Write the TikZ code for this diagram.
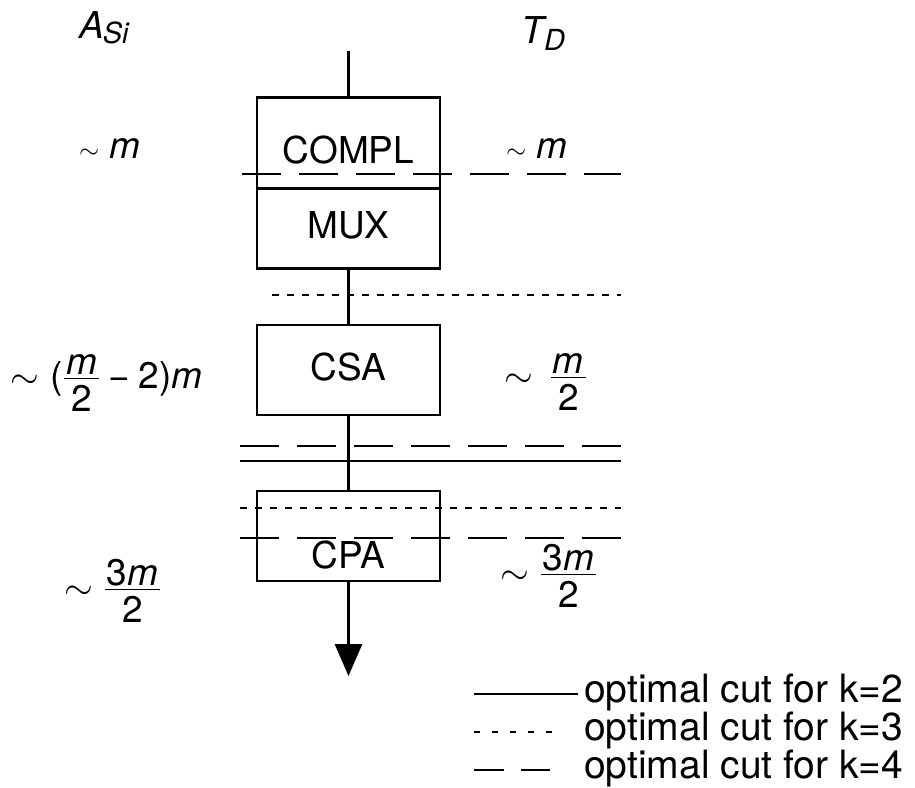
\RequirePackage{fix-cm}
\documentclass[tikz,border=0pt]{standalone}
\usepackage{fontspec}
\setmainfont{TeX Gyre Heros}
\usetikzlibrary{arrows.meta}
\newdimen\frwd
\newbox\frnum
\newbox\frden
\newcommand\myfr[2]{%
  \setbox\frnum\hbox{#1}\setbox\frden\hbox{#2}%
  \frwd=\wd\frnum \ifdim\wd\frden>\frwd \frwd=\wd\frden\fi
  \advance\frwd by 4pt
  \raisebox{9pt}{\vbox{\hbox to\frwd{\hfil\box\frnum\hfil}\kern3pt\hrule height 1.3pt}}%
  \kern-\frwd
  \raisebox{9pt}{\vtop{\kern6pt\hbox to\frwd{\hfil\box\frden\hfil}}}}
\newcommand\mn{\symbol{"2212}}
\tikzset{
  blk/.style={draw, line width=2.4pt, minimum width=183pt, inner sep=0pt},
  wire/.style={line width=3pt},
  cuttwo/.style={line width=2.4pt},
  cutthree/.style={line width=2.4pt, dash pattern=on 7pt off 8pt},
  cutfour/.style={line width=2.4pt, dash pattern=on 39pt off 18pt},
  txt/.style={inner sep=0pt},
  legtxt/.style={inner sep=0pt, anchor=base west, font=\fontsize{39}{46}\selectfont},
}
\begin{document}
\begin{tikzpicture}[x=1pt,y=-1pt,font=\fontsize{37}{44}\selectfont]
\useasboundingbox (0,0) rectangle (915,787);
% headers
\node[txt, anchor=base west] (hA) at (79,38) {\textit{A}\kern-1pt\raisebox{-5pt}{\fontsize{29}{34}\selectfont\textit{Si}}};
\node[txt, anchor=base west] (hT) at (521,43) {\textit{T}\kern-3pt\raisebox{-7pt}{\fontsize{29}{34}\selectfont\textit{D}}};
% boxes
\node[blk, minimum height=91pt] (compl) at (348.5,143) {};
\node[blk, minimum height=80pt] (mux) at (348.5,228.5) {};
\node[blk, minimum height=90pt] (csa) at (348.5,370) {};
\node[blk, minimum height=90pt] (cpa) at (348.5,536) {};
\node[txt] (tcompl) at (348.5,150) {COMPL};
\node[txt] (tmux) at (348.5,225) {MUX};
\node[txt] (tcsa) at (348.5,367) {CSA};
\node[txt] (tcpa) at (348.5,555) {CPA};
% wires
\coordinate (in) at (348.5,51);
\coordinate (out) at (348.5,676);
\draw[wire] (in) -- (compl.north);
\draw[wire] (mux.south) -- (csa.north);
\draw[wire] (csa.south) -- (cpa.north);
\draw[wire, -{Triangle[length=32pt,width=27pt]}] (cpa.south) -- (out);
% cuts
\coordinate (c1a) at (242,174); \coordinate (c1b) at (621,174);
\coordinate (c2a) at (272,295); \coordinate (c2b) at (621,295);
\coordinate (c3a) at (240,446); \coordinate (c3b) at (621,446);
\coordinate (c4a) at (240,461); \coordinate (c4b) at (621,461);
\coordinate (c5a) at (240,508); \coordinate (c5b) at (621,508);
\coordinate (c6a) at (240,538); \coordinate (c6b) at (621,538);
\draw[cutfour] (c1a) -- (c1b);
\draw[cutthree] (c2a) -- (c2b);
\draw[cutfour] (c3a) -- (c3b);
\draw[cuttwo] (c4a) -- (c4b);
\draw[cutthree] (c5a) -- (c5b);
\draw[cutfour] (c6a) -- (c6b);
% labels
\node[txt, anchor=base west] (l1) at (79,158) {${\scriptstyle\sim}$\hspace{10pt}\textit{m}};
\node[txt, anchor=base west] (r1) at (506,158) {${\scriptstyle\sim}$\hspace{10pt}\textit{m}};
\node[txt, anchor=base west] (l2) at (10,388) {$\sim$\hspace{12pt}(\kern1pt\myfr{\textit{m}}{2}\hspace{9pt}\mn\hspace{9pt}2)\textit{m}};
\node[txt, anchor=base west] (r2) at (504,387) {$\sim$\hspace{18pt}\myfr{\textit{m}}{2}};
\node[txt, anchor=base west] (l3) at (64,599) {$\sim$\hspace{12pt}\myfr{3\textit{m}}{2}};
\node[txt, anchor=base west] (r3) at (500,584) {$\sim$\hspace{12pt}\myfr{3\textit{m}}{2}};
% legend
\coordinate (g1a) at (474,694); \coordinate (g1b) at (578,694);
\coordinate (g2a) at (474,732); \coordinate (g2b) at (557,732);
\coordinate (g3a) at (474,770); \coordinate (g3b) at (550,770);
\draw[line width=2.4pt] (g1a) -- (g1b);
\draw[line width=2pt, dash pattern=on 6pt off 12pt] (g2a) -- (g2b);
\draw[line width=2.4pt, dash pattern=on 30pt off 17pt] (g3a) -- (g3b);
\node[legtxt] (t1) at (584,702) {optimal cut for k=2};
\node[legtxt] (t2) at (584,740) {optimal cut for k=3};
\node[legtxt] (t3) at (584,778) {optimal cut for k=4};
\end{tikzpicture}
\end{document}
